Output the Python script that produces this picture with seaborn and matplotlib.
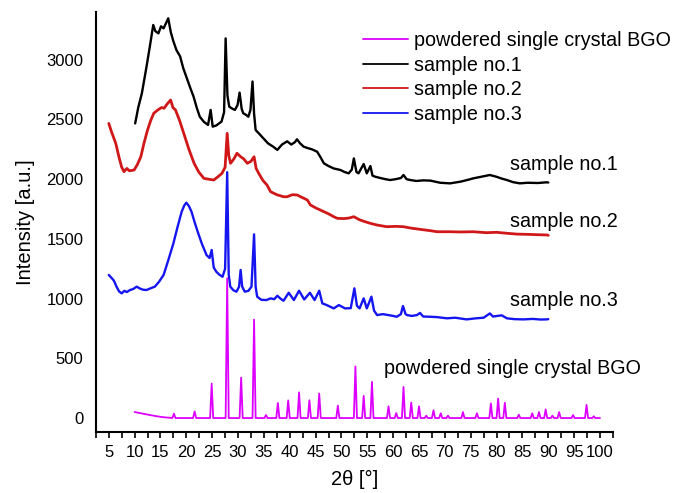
import matplotlib
matplotlib.use("Agg")
import numpy as np
import pandas as pd
import seaborn as sns
import matplotlib.pyplot as plt
from matplotlib.ticker import MultipleLocator

# ---------------- data ----------------
s1_x = [10.1, 10.7, 11.4, 12.3, 12.9, 13.6, 14.0, 14.6, 15.1, 15.6, 16.0, 16.5, 17.0, 17.5, 18.1,
        18.8, 19.4, 20.1, 20.8, 21.4, 22.0, 22.6, 23.4, 24.2, 24.7, 25.1, 25.8, 26.8, 27.3, 27.6,
        27.95, 28.3, 28.9, 29.4, 29.9, 30.3, 30.7, 31.0, 31.5, 32.0, 32.4, 32.8, 33.1, 33.4, 34.1,
        34.9, 35.8, 36.8, 37.6, 38.5, 39.5, 40.3, 41.0, 41.4, 42.0, 42.7, 43.5, 44.3, 45.3, 46.0,
        46.6, 47.5, 48.5, 49.8, 50.6, 51.4, 52.0, 52.4, 52.9, 53.3, 54.3, 54.9, 55.6, 56.0, 56.5,
        57.5, 58.5, 59.4, 60.5, 61.5, 62.0, 62.6, 63.3, 64.5, 65.8, 67.2, 69.1, 71.0, 73.0, 74.5,
        75.5, 77.0, 78.7, 80.0, 81.0, 82.0, 83.2, 84.5, 86.0, 88.0, 89.7, 90.0]
s1_y = [2467, 2600, 2719, 2942, 3100, 3291, 3240, 3221, 3280, 3263, 3300, 3347, 3230, 3154, 3080,
        3028, 2930, 2845, 2760, 2691, 2600, 2523, 2480, 2454, 2580, 2440, 2450, 2482, 2560, 3179,
        2700, 2607, 2590, 2580, 2620, 2725, 2590, 2552, 2540, 2523, 2580, 2818, 2550, 2412, 2380,
        2342, 2300, 2272, 2245, 2290, 2317, 2290, 2310, 2334, 2300, 2272, 2260, 2250, 2230, 2180,
        2133, 2110, 2090, 2077, 2060, 2049, 2080, 2174, 2060, 2049, 2127, 2049, 2110, 2030, 2021,
        2010, 2000, 1993, 2000, 2010, 2035, 2000, 1993, 1985, 1990, 1988, 1970, 1965, 1979, 1995,
        2007, 2020, 2035, 2020, 2005, 1993, 1975, 1965, 1970, 1968, 1974, 1972]

s2_x = [5.0, 5.5, 6.35, 7.0, 7.5, 7.95, 8.5, 9.0, 9.9, 10.5, 11.2, 11.8, 12.5, 13.1, 13.7, 14.5,
        15.2, 15.7, 16.3, 16.97, 17.4, 17.9, 18.7, 19.5, 20.5, 21.5, 22.4, 23.4, 24.3, 25.3, 26.1,
        26.9, 27.5, 27.9, 28.2, 28.55, 29.2, 29.8, 30.5, 31.1, 31.8, 32.5, 33.1, 33.5, 34.0, 34.8,
        35.6, 36.3, 37.5, 38.8, 39.5, 40.5, 41.4, 42.1, 43.4, 44.0, 45.0, 45.9, 46.6, 47.5, 48.5,
        49.2, 50.5, 51.5, 52.4, 53.5, 54.5, 55.6, 57.0, 58.8, 60.5, 62.0, 63.5, 65.2, 67.0, 68.5,
        71.0, 73.0, 75.5, 78.0, 80.0, 82.0, 84.0, 86.0, 88.0, 89.7, 90.0]
s2_y = [2467, 2400, 2300, 2180, 2100, 2063, 2090, 2070, 2077, 2120, 2188, 2300, 2412, 2490, 2552,
        2580, 2600, 2594, 2630, 2663, 2600, 2580, 2490, 2384, 2250, 2133, 2060, 2007, 2000, 1993,
        2020, 2049, 2100, 2384, 2200, 2133, 2170, 2217, 2188, 2170, 2133, 2150, 2188, 2090, 2049,
        1990, 1951, 1895, 1870, 1853, 1853, 1870, 1868, 1853, 1826, 1784, 1760, 1742, 1728, 1710,
        1686, 1672, 1670, 1675, 1686, 1660, 1645, 1630, 1615, 1602, 1605, 1602, 1590, 1580, 1570,
        1560, 1560, 1558, 1560, 1552, 1555, 1547, 1540, 1538, 1535, 1533, 1530]

s3_x = [5.0, 5.6, 6.0, 6.5, 7.0, 7.5, 8.0, 8.5, 9.1, 9.7, 10.4, 11.0, 11.6, 12.3, 13.0, 13.9, 14.7,
        15.6, 16.5, 17.5, 18.3, 19.1, 19.6, 20.0, 20.5, 21.0, 21.6, 22.3, 23.0, 23.9, 24.5, 24.9,
        25.3, 25.8, 26.4, 27.0, 27.5, 27.9, 28.2, 28.5, 29.1, 29.7, 30.2, 30.5, 30.8, 31.3, 32.0,
        32.6, 33.1, 33.4, 33.7, 34.5, 35.5, 36.3, 37.0, 37.6, 38.2, 38.8, 39.8, 40.8, 41.8, 42.8,
        43.9, 44.8, 45.7, 46.3, 47.2, 48.5, 49.5, 50.7, 51.8, 52.5, 53.0, 53.5, 54.3, 54.9, 55.8,
        56.3, 56.9, 58.0, 59.1, 60.0, 60.7, 61.5, 61.9, 62.4, 62.7, 63.6, 64.6, 65.2, 65.8, 67.2,
        68.5, 70.4, 72.0, 74.2, 76.0, 77.5, 78.7, 79.3, 80.0, 81.0, 82.0, 83.5, 85.2, 87.0, 88.5,
        89.7, 90.0]
s3_y = [1198, 1170, 1150, 1100, 1060, 1044, 1065, 1055, 1072, 1080, 1100, 1085, 1075, 1072, 1085,
        1100, 1140, 1198, 1320, 1463, 1600, 1728, 1780, 1803, 1775, 1728, 1640, 1547, 1460, 1365,
        1340, 1407, 1260, 1225, 1200, 1183, 1250, 2058, 1200, 1100, 1070, 1058, 1100, 1240, 1100,
        1058, 1065, 1100, 1538, 1100, 1016, 990, 988, 1002, 995, 1024, 1000, 982, 1049, 988, 1066,
        993, 1049, 988, 1066, 960, 945, 918, 946, 918, 920, 1086, 940, 918, 1002, 918, 1016, 900,
        862, 870, 862, 855, 848, 870, 938, 870, 862, 855, 862, 880, 850, 848, 845, 835, 840, 826,
        835, 840, 876, 850, 854, 860, 835, 828, 826, 830, 825, 826, 828]

# powdered single crystal BGO: background and reflections
bgo_bg_x = [10.0, 11.0, 12.0, 13.0, 14.0, 15.0, 16.0, 17.0, 100.0]
bgo_bg_y = [50, 42, 33, 25, 17, 10, 5, 2, 0]
bgo_peak_pos = [17.6, 21.6, 24.9, 27.9, 30.6, 33.1, 35.4, 37.7, 39.7, 41.8, 43.8, 45.7, 49.3,
                52.7, 54.3, 55.9, 59.1, 60.6, 62.0, 63.5, 65.0, 66.4, 67.8, 69.2, 70.6, 73.5,
                76.2, 78.9, 80.3, 81.6, 84.3, 86.9, 88.2, 89.5, 90.8, 92.1, 94.8, 97.4, 98.8]
bgo_peak_int = [37, 55, 288, 1170, 338, 824, 25, 126, 148, 215, 149, 205, 104,
                432, 185, 303, 98, 42, 260, 130, 98, 20, 65, 40, 20, 50,
                40, 122, 163, 128, 28, 40, 50, 72, 20, 50, 25, 110, 15]

series_labels = ["powdered single crystal BGO", "sample no.1", "sample no.2", "sample no.3"]
x_ticks = list(range(5, 101, 5))
y_ticks = list(range(0, 3001, 500))

# ---------------- build BGO profile table ----------------
hw = 0.3
rows = list(zip(bgo_bg_x, bgo_bg_y))
for p, h in zip(bgo_peak_pos, bgo_peak_int):
    rows += [(p - hw, 0), (p, h), (p + hw, 0)]
bgo = pd.DataFrame(rows, columns=["x", "y"]).sort_values("x")

# ---------------- plot ----------------
sns.set_style("ticks")
plt.rcParams["font.family"] = ["Liberation Sans", "DejaVu Sans"]
plt.rcParams["text.color"] = "black"
plt.rcParams["axes.labelcolor"] = "black"
plt.rcParams["xtick.color"] = "black"
plt.rcParams["ytick.color"] = "black"

fig = plt.figure(figsize=(6.75, 4.93), dpi=100)
ax = fig.add_axes([0.142, 0.1237, 0.766, 0.852])

colors = ["#DD00FF", "#000000", "#D01818", "#1515F0"]
sns.lineplot(data=bgo, x="x", y="y", ax=ax, color=colors[0], lw=1.3, estimator=None, sort=False,
             label=series_labels[0])
sns.lineplot(x=s1_x, y=s1_y, ax=ax, color=colors[1], lw=1.7, estimator=None, sort=False,
             label=series_labels[1])
sns.lineplot(x=s2_x, y=s2_y, ax=ax, color=colors[2], lw=2.0, estimator=None, sort=False,
             label=series_labels[2])
sns.lineplot(x=s3_x, y=s3_y, ax=ax, color=colors[3], lw=1.7, estimator=None, sort=False,
             label=series_labels[3])

ax.set_xlim(2.5, 102.5)
ax.set_ylim(-117, 3400)
ax.set_xticks(x_ticks)
ax.xaxis.set_minor_locator(MultipleLocator(2.5))
ax.set_yticks(y_ticks)
ax.tick_params(axis="x", which="both", direction="out", length=4.5, width=1.2, pad=5,
               labelsize=12, colors="black")
ax.tick_params(axis="y", length=0, pad=9, labelsize=12, colors="black")
for s in ["top", "right"]:
    ax.spines[s].set_visible(False)
for s in ["left", "bottom"]:
    ax.spines[s].set_linewidth(1.5)
    ax.spines[s].set_color("black")

ax.set_xlabel("2θ [°]", fontsize=14.5, labelpad=7, color="black")
ax.set_ylabel("Intensity [a.u.]", fontsize=14.5, labelpad=8, color="black")

# curve annotations
ax.text(82.6, 2119, "sample no.1", fontsize=14.2, va="center", ha="left", color="black")
ax.text(82.6, 1644, "sample no.2", fontsize=14.2, va="center", ha="left", color="black")
ax.text(82.6, 988, "sample no.3", fontsize=14.2, va="center", ha="left", color="black")
ax.text(58.3, 416, "powdered single crystal BGO", fontsize=14.2, va="center", ha="left",
        color="black")

handles, labels = ax.get_legend_handles_labels()
leg = ax.legend(handles, labels, loc="upper left", bbox_to_anchor=(0.516, 0.955), frameon=False,
                fontsize=14.2, borderpad=0, handlelength=2.28, handletextpad=0.3,
                labelspacing=0.29, borderaxespad=0, labelcolor="black")
for line in leg.get_lines():
    line.set_linewidth(1.3)

fig.savefig("out.png", dpi=100)
